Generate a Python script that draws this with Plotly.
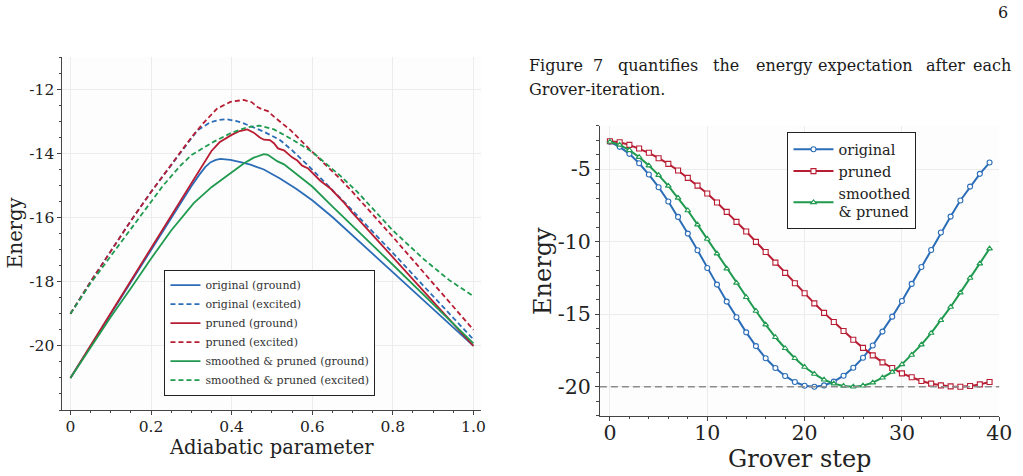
import plotly.graph_objects as go

# ---------------- Left panel data (adiabatic evolution) ----------------
orig_ground_x = [0, 0.1, 0.2, 0.27, 0.3, 0.32, 0.335, 0.348, 0.361, 0.372, 0.397, 0.422, 0.447, 0.48, 0.52, 0.56, 0.6, 0.65, 0.7, 0.8, 0.9, 1.0]
orig_ground_y = [-21, -19.0, -17.0, -15.6, -15.02, -14.66, -14.42, -14.27, -14.2, -14.17, -14.2, -14.27, -14.35, -14.5, -14.78, -15.1, -15.46, -15.98, -16.55, -17.7, -18.85, -20.0]

orig_exc_x = [0, 0.05, 0.1, 0.15, 0.2, 0.25, 0.3, 0.315, 0.348, 0.37, 0.385, 0.41, 0.43, 0.48, 0.52, 0.55, 0.6, 0.7, 0.8, 0.9, 1.0]
orig_exc_y = [-19, -18.0, -17.05, -16.1, -15.2, -14.35, -13.5, -13.28, -13.02, -12.95, -12.93, -12.98, -13.06, -13.32, -13.58, -13.9, -14.5, -15.78, -17.1, -18.45, -19.8]

pruned_ground_x = [0, 0.1, 0.2, 0.265, 0.3, 0.33, 0.35, 0.37, 0.4, 0.42, 0.439, 0.455, 0.47, 0.48, 0.495, 0.505, 0.515, 0.53, 0.54, 0.55, 0.563, 0.575, 0.59, 0.6, 0.62, 0.646, 0.68, 0.7, 0.8, 0.9, 1.0]
pruned_ground_y = [-21, -18.98, -16.95, -15.62, -14.9, -14.3, -13.92, -13.65, -13.42, -13.3, -13.25, -13.35, -13.5, -13.57, -13.58, -13.68, -13.84, -13.9, -14.0, -14.12, -14.22, -14.38, -14.47, -14.6, -14.85, -15.1, -15.55, -15.85, -17.25, -18.62, -20.0]

pruned_exc_x = [0, 0.05, 0.1, 0.15, 0.2, 0.25, 0.3, 0.33, 0.364, 0.397, 0.43, 0.45, 0.464, 0.475, 0.49, 0.505, 0.546, 0.6, 0.67, 0.7, 0.8, 0.9, 1.0]
pruned_exc_y = [-19, -18.0, -17.05, -16.1, -15.2, -14.35, -13.5, -13.05, -12.6, -12.39, -12.33, -12.4, -12.55, -12.62, -12.68, -12.85, -13.27, -13.95, -14.8, -15.2, -16.6, -18.05, -19.5]

smooth_ground_x = [0, 0.1, 0.15, 0.196, 0.25, 0.306, 0.35, 0.4, 0.43, 0.455, 0.47, 0.48, 0.49, 0.5, 0.513, 0.53, 0.546, 0.6, 0.646, 0.7, 0.8, 0.9, 1.0]
smooth_ground_y = [-21, -19.1, -18.2, -17.35, -16.4, -15.55, -15.05, -14.58, -14.31, -14.13, -14.05, -14.02, -14.04, -14.12, -14.24, -14.34, -14.5, -15.03, -15.6, -16.25, -17.47, -18.7, -19.92]

smooth_exc_x = [0, 0.05, 0.1, 0.15, 0.19, 0.23, 0.273, 0.3, 0.356, 0.397, 0.439, 0.47, 0.505, 0.546, 0.6, 0.67, 0.712, 0.8, 0.877, 0.94, 1.0]
smooth_exc_y = [-19, -18.05, -17.2, -16.35, -15.65, -15.0, -14.38, -14.05, -13.63, -13.37, -13.18, -13.13, -13.25, -13.53, -13.95, -14.7, -15.2, -16.4, -17.3, -17.95, -18.45]

left_xticks = [0, 0.2, 0.4, 0.6, 0.8, 1.0]
left_xticklabels = ["0", "0.2", "0.4", "0.6", "0.8", "1.0"]
left_yticks = [-12, -14, -16, -18, -20]
left_yticklabels = ["-12", "-14", "-16", "-18", "-20"]

# ---------------- Right panel data (Grover steps) ----------------
grover_steps = list(range(40))
grover_original = [-3.11, -3.46, -3.94, -4.59, -5.37, -6.24, -7.23, -8.29, -9.44, -10.59,
                   -11.81, -12.96, -14.13, -15.21, -16.25, -17.2, -18.04, -18.71, -19.26, -19.68,
                   -19.93, -20.0, -19.91, -19.65, -19.24, -18.69, -18.0, -17.16, -16.2, -15.17,
                   -14.09, -12.91, -11.74, -10.57, -9.37, -8.27, -7.16, -6.2, -5.32, -4.54]
grover_pruned = [-3.07, -3.14, -3.32, -3.57, -3.87, -4.24, -4.63, -5.09, -5.6, -6.13,
                 -6.68, -7.3, -7.94, -8.63, -9.3, -10.01, -10.71, -11.44, -12.15, -12.87,
                 -13.56, -14.25, -14.91, -15.54, -16.16, -16.76, -17.32, -17.84, -18.32, -18.71,
                 -19.08, -19.35, -19.61, -19.79, -19.91, -19.98, -20.0, -19.95, -19.84, -19.68]
grover_smoothed = [-3.11, -3.32, -3.69, -4.17, -4.75, -5.41, -6.15, -6.98, -7.85, -8.82,
                   -9.81, -10.82, -11.86, -12.84, -13.83, -14.78, -15.72, -16.59, -17.35, -18.04,
                   -18.64, -19.12, -19.52, -19.79, -19.95, -20.0, -19.93, -19.72, -19.38, -18.99,
                   -18.46, -17.81, -17.1, -16.3, -15.42, -14.5, -13.51, -12.5, -11.51, -10.48]
ground_energy = -20

right_xticks = [0, 10, 20, 30, 40]
right_xticklabels = ["0", "10", "20", "30", "40"]
right_yticks = [-5, -10, -15, -20]
right_yticklabels = ["-5", "-10", "-15", "-20"]

# ---------------- Page text ----------------
page_number = "6"
para_line1_words = ["Figure", "7", "quantifies", "the", "energy", "expectation", "after", "each"]
para_line2 = "Grover-iteration."

# ---------------- Styles ----------------
BLUE = "#2c6db8"
RED = "#b81d33"
GREEN = "#1f9a4f"
SERIF = "DejaVu Serif"
H = 476
W_EFF = 1009  # width the page is actually laid out at in the viewer

fig = go.Figure()

left_series = [
    ("original (ground)", orig_ground_x, orig_ground_y, BLUE, "solid"),
    ("original (excited)", orig_exc_x, orig_exc_y, BLUE, "5px,3px"),
    ("pruned (ground)", pruned_ground_x, pruned_ground_y, RED, "solid"),
    ("pruned (excited)", pruned_exc_x, pruned_exc_y, RED, "5px,3px"),
    ("smoothed & pruned (ground)", smooth_ground_x, smooth_ground_y, GREEN, "solid"),
    ("smoothed & pruned (excited)", smooth_exc_x, smooth_exc_y, GREEN, "5px,3px"),
]
for name, xs, ys, col, dash in left_series:
    fig.add_trace(go.Scatter(x=xs, y=ys, name=name, mode="lines",
                             line=dict(color=col, width=1.8, dash=dash),
                             xaxis="x", yaxis="y", legend="legend"))

right_series = [
    ("original", grover_original, BLUE, "circle"),
    ("pruned", grover_pruned, RED, "square"),
    ("smoothed<br>& pruned", grover_smoothed, GREEN, "triangle-up"),
]
for name, ys, col, sym in right_series:
    fig.add_trace(go.Scatter(x=grover_steps, y=ys, name=name, mode="lines+markers",
                             line=dict(color=col, width=2),
                             marker=dict(symbol=sym, size=5, color="white",
                                         line=dict(color=col, width=1.1)),
                             xaxis="x2", yaxis="y2", legend="legend2"))

fig.add_shape(type="line", xref="x2 domain", yref="y2", x0=0, x1=1,
              y0=ground_energy, y1=ground_energy,
              line=dict(color="#8c8c8c", width=1.5, dash="7px,4px"), layer="above")

def px_x(p):
    return p / W_EFF

def px_y(p):
    return 1 - p / H

axis_common = dict(showline=True, linecolor="#444", linewidth=1, ticks="outside",
                   ticklen=4, tickcolor="#444", showgrid=True, gridcolor="#ececec",
                   gridwidth=1, zeroline=False, fixedrange=True)

fig.update_layout(
    height=H, autosize=True, margin=dict(l=0, r=0, t=0, b=0, pad=0),
    paper_bgcolor="white", plot_bgcolor="#fdfdfd",
    font=dict(family=SERIF, color="#222"),
    xaxis=dict(domain=[px_x(62.3), px_x(481)], anchor="y", range=[-0.02, 1.02],
               tickvals=left_xticks, ticktext=left_xticklabels,
               tickfont=dict(family=SERIF, size=15.5, color="#222"),
               ticklabelstandoff=-2,
               minor=dict(dtick=0.05, tick0=0, ticklen=2, ticks="outside", tickcolor="#444", showgrid=False),
               **axis_common),
    yaxis=dict(domain=[px_y(410), px_y(57.3)], anchor="x", range=[-22, -11],
               tickvals=left_yticks, ticktext=left_yticklabels,
               tickfont=dict(family=SERIF, size=15.5, color="#222"),
               minor=dict(dtick=0.5, tick0=0, ticklen=2, ticks="outside", tickcolor="#444", showgrid=False),
               **axis_common),
    xaxis2=dict(domain=[px_x(599.3), px_x(998.3)], anchor="y2", range=[-1.03, 40],
                tickvals=right_xticks, ticktext=right_xticklabels,
                tickfont=dict(family=SERIF, size=20.5, color="#222"),
                ticklabelstandoff=-5,
                minor=dict(dtick=2, tick0=0, ticklen=2.5, ticks="outside", tickcolor="#444", showgrid=False),
                **axis_common),
    yaxis2=dict(domain=[px_y(415.7), px_y(125.7)], anchor="x2", range=[-22, -2],
                tickvals=right_yticks, ticktext=right_yticklabels,
                tickfont=dict(family=SERIF, size=20.5, color="#222"),
                minor=dict(dtick=1, tick0=0, ticklen=2.5, ticks="outside", tickcolor="#444", showgrid=False),
                **axis_common),
    legend=dict(x=px_x(164.3), y=px_y(332.6), xanchor="left", yanchor="middle",
                bgcolor="white", bordercolor="#222", borderwidth=1,
                font=dict(family=SERIF, size=11, color="#333"),
                itemwidth=30, tracegroupgap=0),
    legend2=dict(x=px_x(786.7), y=px_y(132.3), xanchor="left", yanchor="top",
                 bgcolor="white", bordercolor="#222", borderwidth=1,
                 font=dict(family=SERIF, size=14.5, color="#222"),
                 itemwidth=40, tracegroupgap=0),
)

annotations = []
# axis titles
annotations.append(dict(text="Energy", x=px_x(16), y=px_y(233.6), xref="paper", yref="paper",
                        textangle=-90, showarrow=False, xanchor="center", yanchor="middle",
                        font=dict(family=SERIF, size=19.5, color="#222")))
annotations.append(dict(text="Adiabatic parameter", x=px_x(271.6), y=px_y(447), xref="paper", yref="paper",
                        showarrow=False, xanchor="center", yanchor="middle",
                        font=dict(family=SERIF, size=19.5, color="#222")))
annotations.append(dict(text="Energy", x=px_x(541.7), y=px_y(270.7), xref="paper", yref="paper",
                        textangle=-90, showarrow=False, xanchor="center", yanchor="middle",
                        font=dict(family=SERIF, size=24, color="#222")))
annotations.append(dict(text="Grover step", x=px_x(798.8), y=px_y(458.5), xref="paper", yref="paper",
                        showarrow=False, xanchor="center", yanchor="middle",
                        font=dict(family=SERIF, size=24, color="#222")))
# page text
text_font = dict(family=SERIF, size=16, color="#1a1a1a")
annotations.append(dict(text=page_number, x=min(px_x(1016), 1.0), y=px_y(12), xref="paper", yref="paper",
                        showarrow=False, xanchor="right", yanchor="middle", font=text_font))
word_left_px = [526.7, 590, 615, 710, 753.3, 815, 923.3, 970]
for word, lx in zip(para_line1_words, word_left_px):
    annotations.append(dict(text=word, x=px_x(lx), y=px_y(66), xref="paper", yref="paper",
                            showarrow=False, xanchor="left", yanchor="middle", font=text_font))
annotations.append(dict(text=para_line2, x=px_x(526.7), y=px_y(89), xref="paper", yref="paper",
                        showarrow=False, xanchor="left", yanchor="middle", font=text_font))
fig.update_layout(annotations=annotations)

fit_js = ("document.documentElement.style.overflow='hidden';"
          "document.body.style.overflow='hidden';"
          "document.body.style.margin='0';"
          "var gd=document.getElementById('{plot_id}');"
          "gd.style.width='100%';"
          "Plotly.Plots.resize(gd);")
fig.write_html("out.html", config={"responsive": True}, post_script=fit_js)
